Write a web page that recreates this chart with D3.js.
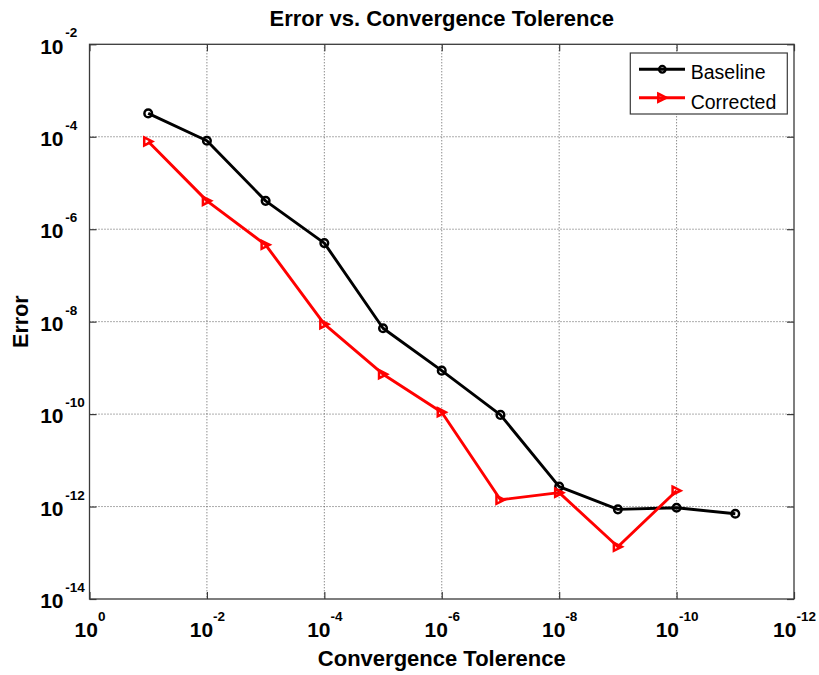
<!DOCTYPE html>
<html>
<head>
<meta charset="utf-8">
<script src="https://cdn.jsdelivr.net/npm/d3@7"></script>
<style>
  html, body { margin: 0; padding: 0; background: #fff; }
  svg { display: block; font-family: "Liberation Sans", Arial, Helvetica, sans-serif; }
</style>
</head>
<body>
<svg id="chart" width="819" height="675"></svg>
<script>
// Convergence tolerance used for each run
const tolerances = [1e-1, 1e-2, 1e-3, 1e-4, 1e-5, 1e-6, 1e-7, 1e-8, 1e-9, 1e-10, 1e-11];

// Error of each method per tolerance
const baselineError  = [3.2e-4, 8.2e-5, 4.1e-6, 5.0e-7, 7.2e-9, 8.7e-10, 9.6e-11, 2.7e-12, 8.7e-13, 9.4e-13, 7.0e-13];
const correctedError = [7.9e-5, 4.1e-6, 4.6e-7, 8.8e-9, 7.3e-10, 1.1e-10, 1.4e-12, 2.0e-12, 1.35e-13, 2.2e-12];

// Tick exponents (labels are drawn as 10^exp)
const xTickExponents = [0, -2, -4, -6, -8, -10, -12];
const yTickExponents = [-2, -4, -6, -8, -10, -12, -14];

const seriesNames = ["Baseline", "Corrected"];
const seriesColors = ["#000000", "#ff0000"];

const svg = d3.select("#chart");
const plot = { left: 89.5, right: 794, top: 44.3, bottom: 599 };

const x = d3.scaleLog().domain([1, 1e-12]).range([plot.left, plot.right]);
const y = d3.scaleLog().domain([1e-2, 1e-14]).range([plot.top, plot.bottom]);

const xTicks = xTickExponents.map(e => Math.pow(10, e));
const yTicks = yTickExponents.map(e => Math.pow(10, e));

// Dotted grid
const grid = svg.append("g").attr("class", "grid");
grid.selectAll("line.gx").data(xTicks.slice(1, -1)).join("line")
  .attr("x1", d => x(d)).attr("x2", d => x(d))
  .attr("y1", plot.top).attr("y2", plot.bottom)
  .attr("stroke", "#5a5a5a").attr("stroke-width", 1).attr("stroke-dasharray", "1,2");
grid.selectAll("line.gy").data(yTicks.slice(1, -1)).join("line")
  .attr("x1", plot.left).attr("x2", plot.right)
  .attr("y1", d => y(d)).attr("y2", d => y(d))
  .attr("stroke", "#5a5a5a").attr("stroke-width", 1).attr("stroke-dasharray", "1,2");

// Axes with inward ticks on all four sides
const tickLen = 7;
const axisColor = "#3a3a3a";
function styleAxis(g) {
  g.select(".domain").remove();
  g.selectAll(".tick line").attr("stroke", axisColor).attr("stroke-width", 1.2);
}
const gBottom = svg.append("g").attr("transform", `translate(0,${plot.bottom})`)
  .call(d3.axisBottom(x).tickValues(xTicks).tickSize(-tickLen).tickFormat(""));
const gTop = svg.append("g").attr("transform", `translate(0,${plot.top})`)
  .call(d3.axisTop(x).tickValues(xTicks).tickSize(-tickLen).tickFormat(""));
const gLeft = svg.append("g").attr("transform", `translate(${plot.left},0)`)
  .call(d3.axisLeft(y).tickValues(yTicks).tickSize(-tickLen).tickFormat(""));
const gRight = svg.append("g").attr("transform", `translate(${plot.right},0)`)
  .call(d3.axisRight(y).tickValues(yTicks).tickSize(-tickLen).tickFormat(""));
[gBottom, gTop, gLeft, gRight].forEach(styleAxis);
[gBottom, gTop, gLeft, gRight].forEach(g => g.selectAll(".tick text").remove());

// Box around plot area
svg.append("rect")
  .attr("x", plot.left).attr("y", plot.top)
  .attr("width", plot.right - plot.left).attr("height", plot.bottom - plot.top)
  .attr("fill", "none").attr("stroke", axisColor).attr("stroke-width", 1.3);

// X tick labels: 10 with superscript exponent, centred on tick
gBottom.selectAll(".tick").each(function(d, i) {
  const t = d3.select(this).append("text")
    .attr("text-anchor", "middle").attr("y", 38)
    .attr("fill", "#000").attr("font-weight", "bold")
    .style("font-size", "21px");
  t.append("tspan").text("10");
  t.append("tspan").attr("dy", -16).style("font-size", "13.5px").text(String(xTickExponents[i]));
});

// Y tick labels: "10" right-aligned, exponent to its upper right
gLeft.selectAll(".tick").each(function(d, i) {
  const g = d3.select(this);
  g.append("text").attr("text-anchor", "end").attr("x", -26).attr("y", 8.7)
    .attr("fill", "#000").attr("font-weight", "bold").style("font-size", "21px")
    .text("10");
  g.append("text").attr("text-anchor", "start").attr("x", -24.3).attr("y", -7.5)
    .attr("fill", "#000").attr("font-weight", "bold").style("font-size", "13.5px")
    .text(String(yTickExponents[i]));
});

// Series
const series = [
  tolerances.map((t, i) => ({ x: t, y: baselineError[i] })),
  tolerances.slice(0, correctedError.length).map((t, i) => ({ x: t, y: correctedError[i] }))
];
const line = d3.line().x(d => x(d.x)).y(d => y(d.y));
const tri = s => `M${-s},${-s}L${s},0L${-s},${s}Z`;

series.forEach((data, k) => {
  svg.append("path").datum(data)
    .attr("d", line).attr("fill", "none")
    .attr("stroke", seriesColors[k]).attr("stroke-width", 2.9)
    .attr("stroke-linejoin", "round");
});
svg.selectAll("circle.base").data(series[0]).join("circle")
  .attr("cx", d => x(d.x)).attr("cy", d => y(d.y)).attr("r", 3.8)
  .attr("fill", "none").attr("stroke", seriesColors[0]).attr("stroke-width", 2.5);
svg.selectAll("path.corr").data(series[1]).join("path")
  .attr("transform", d => `translate(${x(d.x)},${y(d.y)})`)
  .attr("d", tri(4))
  .attr("fill", "none").attr("stroke", seriesColors[1]).attr("stroke-width", 2.5)
  .attr("stroke-linejoin", "miter");

// Title and axis labels
svg.append("text").attr("x", (plot.left + plot.right) / 2).attr("y", 25.5)
  .attr("text-anchor", "middle").attr("font-weight", "bold").style("font-size", "22px")
  .text("Error vs. Convergence Tolerence");
svg.append("text").attr("x", (plot.left + plot.right) / 2).attr("y", 665.5)
  .attr("text-anchor", "middle").attr("font-weight", "bold").style("font-size", "22px")
  .text("Convergence Tolerence");
svg.append("text")
  .attr("transform", `translate(28.3,${(plot.top + plot.bottom) / 2}) rotate(-90)`)
  .attr("text-anchor", "middle").attr("font-weight", "bold").style("font-size", "21.5px")
  .text("Error");

// Legend
const legend = svg.append("g").attr("transform", "translate(630.3,53)");
legend.append("rect").attr("width", 157).attr("height", 61)
  .attr("fill", "#fff").attr("stroke", axisColor).attr("stroke-width", 1.2);
const rows = [16.3, 44.7];
seriesNames.forEach((name, k) => {
  const row = legend.append("g").attr("transform", `translate(0,${rows[k]})`);
  row.append("line").attr("x1", 8.7).attr("x2", 54.7).attr("y1", 0).attr("y2", 0)
    .attr("stroke", seriesColors[k]).attr("stroke-width", 2.9);
  if (k === 0) {
    row.append("circle").attr("cx", 32).attr("cy", 0).attr("r", 3.3)
      .attr("fill", "none").attr("stroke", seriesColors[k]).attr("stroke-width", 2.3);
  } else {
    row.append("path").attr("transform", "translate(32,0)").attr("d", tri(4))
      .attr("fill", "none").attr("stroke", seriesColors[k]).attr("stroke-width", 2.5);
  }
  row.append("text").attr("x", 60.4).attr("y", k === 0 ? 9.8 : 10.8)
    .style("font-size", "19.5px").attr("fill", "#000").text(name);
});
</script>
</body>
</html>
